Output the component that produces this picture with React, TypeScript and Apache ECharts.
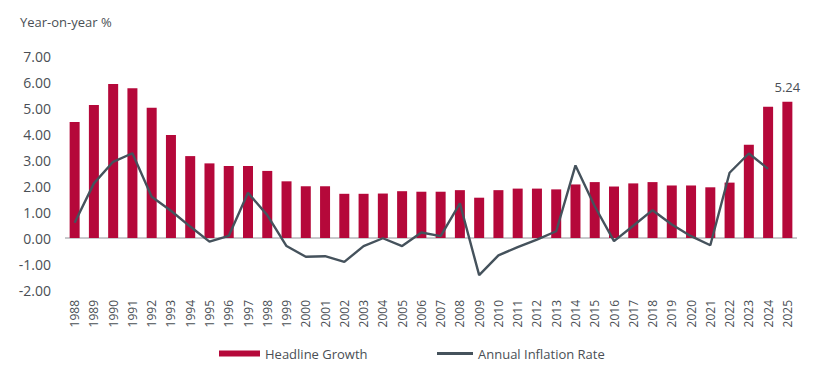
import React, { useEffect, useRef } from "react";
import * as echarts from "echarts";

const years = [
  "1988","1989","1990","1991","1992","1993","1994","1995","1996","1997",
  "1998","1999","2000","2001","2002","2003","2004","2005","2006","2007",
  "2008","2009","2010","2011","2012","2013","2014","2015","2016","2017",
  "2018","2019","2020","2021","2022","2023","2024","2025",
];

const headlineGrowth = [
  4.46, 5.12, 5.92, 5.76, 5.01, 3.96, 3.15, 2.87, 2.77, 2.77,
  2.58, 2.18, 1.99, 1.99, 1.70, 1.70, 1.71, 1.80, 1.78, 1.78,
  1.84, 1.55, 1.84, 1.90, 1.90, 1.87, 2.06, 2.15, 1.98, 2.10,
  2.15, 2.02, 2.02, 1.95, 2.13, 3.59, 5.05, 5.24,
];

const inflationRate: (number | null)[] = [
  0.59, 2.10, 2.93, 3.26, 1.59, 1.05, 0.44, -0.14, 0.08, 1.74,
  0.88, -0.31, -0.72, -0.70, -0.92, -0.31, -0.01, -0.31, 0.21, 0.07,
  1.33, -1.43, -0.67, -0.35, -0.06, 0.26, 2.79, 1.22, -0.12, 0.47,
  1.07, 0.52, 0.07, -0.28, 2.51, 3.25, 2.66, null,
];

const yTicks = { min: -2, max: 7, interval: 1 };

const FONT = "'Open Sans', 'Noto Sans', sans-serif";
const TEXT = "#4a4f55";
const BAR = "#b5083a";
const LINE = "#45525c";

export default function App() {
  const ref = useRef<HTMLDivElement>(null);
  useEffect(() => {
    if (!ref.current) return;
    const chart = echarts.init(ref.current, undefined, { renderer: "svg" });
    const lastIdx = headlineGrowth.length - 1;
    chart.setOption({
      animation: false,
      textStyle: { fontFamily: FONT, color: TEXT },
      title: {
        text: "Year-on-year %",
        left: 15,
        top: 10,
        textStyle: { fontFamily: FONT, fontSize: 13, fontWeight: "normal", color: TEXT },
      },
      grid: { left: 65, right: 23, top: 56, bottom: 83 },
      legend: [
        {
          data: [{ name: "Headline Growth", icon: "rect" }],
          left: 214,
          top: 342,
          itemWidth: 41,
          itemHeight: 6,
          itemGap: 9,
          textStyle: { fontFamily: FONT, fontSize: 13, color: TEXT },
        },
        {
          data: [{ name: "Annual Inflation Rate", icon: "rect" }],
          left: 432,
          top: 342,
          itemWidth: 36,
          itemHeight: 3,
          textStyle: { fontFamily: FONT, fontSize: 13, color: TEXT },
        },
      ],
      xAxis: {
        type: "category",
        data: years,
        boundaryGap: true,
        axisLine: { show: false, onZero: false },
        axisTick: { show: false },
        axisLabel: {
          rotate: 90,
          interval: 0,
          margin: 10,
          fontFamily: FONT,
          fontSize: 12,
          color: TEXT,
        },
      },
      yAxis: {
        type: "value",
        min: yTicks.min,
        max: yTicks.max,
        interval: yTicks.interval,
        axisLine: { show: false },
        axisTick: { show: false },
        splitLine: { show: false },
        axisLabel: {
          margin: 14,
          fontFamily: FONT,
          fontSize: 14,
          color: TEXT,
          formatter: (v: number) => v.toFixed(2),
        },
      },
      series: [
        {
          name: "Headline Growth",
          type: "bar",
          barWidth: 10,
          itemStyle: { color: BAR },
          data: headlineGrowth.map((v, i) =>
            i === lastIdx
              ? {
                  value: v,
                  label: {
                    show: true,
                    position: "top",
                    distance: 8,
                    formatter: (p: any) => Number(p.value).toFixed(2),
                    fontFamily: FONT,
                    fontSize: 13,
                    color: TEXT,
                  },
                }
              : v
          ),
          markLine: {
            silent: true,
            symbol: "none",
            label: { show: false },
            lineStyle: { color: "#c8c9cc", width: 2, type: "solid" },
            data: [{ yAxis: 0 }],
            z: 1,
          },
          z: 2,
        },
        {
          name: "Annual Inflation Rate",
          type: "line",
          data: inflationRate,
          symbol: "none",
          connectNulls: false,
          lineStyle: { color: LINE, width: 2.4 },
          itemStyle: { color: LINE },
          z: 3,
        },
      ],
    });
    return () => chart.dispose();
  }, []);
  return <div ref={ref} style={{ width: 820, height: 373, margin: -8 }} />;
}
